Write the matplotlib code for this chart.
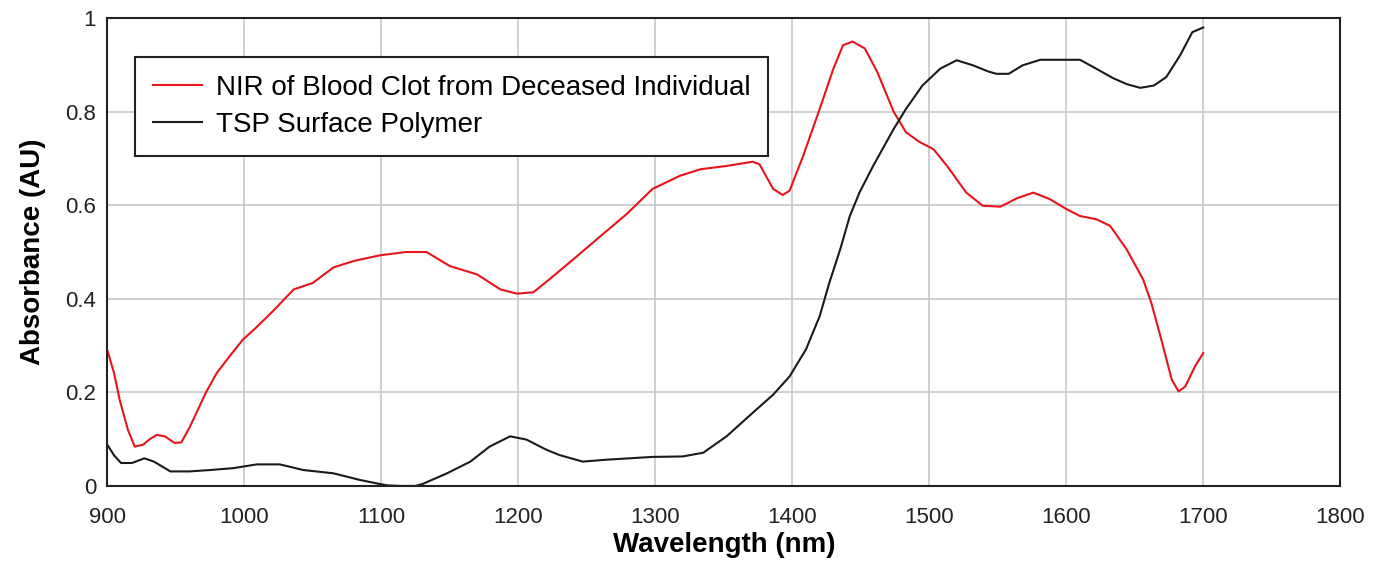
import matplotlib.pyplot as plt

plt.rcParams["font.family"] = ["Liberation Sans", "DejaVu Sans"]

# NIR spectrum of the blood clot
clot_nm = [900, 905, 909, 915, 920, 926, 931, 936, 942, 949, 954, 960, 965, 972,
           980, 990, 999, 1007, 1021, 1036, 1050, 1065, 1080, 1099, 1118, 1133,
           1150, 1170, 1187, 1199, 1211, 1222, 1240, 1260, 1279, 1298, 1318, 1333,
           1352, 1371, 1376, 1386, 1393, 1398, 1408, 1420, 1430, 1437, 1444, 1453,
           1462, 1474, 1483, 1493, 1503, 1513, 1527, 1539, 1552, 1564, 1576, 1588,
           1600, 1610, 1622, 1632, 1644, 1656, 1662, 1670, 1677, 1682, 1687, 1694,
           1700]
clot_abs = [0.29, 0.24, 0.184, 0.12, 0.084, 0.088, 0.10, 0.109, 0.106, 0.092, 0.093,
            0.125, 0.156, 0.20, 0.242, 0.28, 0.313, 0.334, 0.374, 0.42, 0.434, 0.467,
            0.481, 0.493, 0.50, 0.50, 0.47, 0.452, 0.42, 0.411, 0.414, 0.44, 0.484,
            0.534, 0.581, 0.635, 0.663, 0.677, 0.684, 0.693, 0.688, 0.635, 0.622,
            0.631, 0.706, 0.806, 0.892, 0.942, 0.950, 0.935, 0.885, 0.80, 0.756,
            0.735, 0.72, 0.684, 0.627, 0.599, 0.597, 0.615, 0.627, 0.613, 0.592,
            0.577, 0.57, 0.556, 0.506, 0.442, 0.392, 0.306, 0.227, 0.202, 0.213,
            0.256, 0.284]

# TSP surface polymer reference spectrum
tsp_nm = [900, 905, 910, 918, 927, 934, 946, 960, 975, 992, 1009, 1026, 1043, 1065,
          1084, 1099, 1105, 1114, 1125, 1130, 1148, 1165, 1179, 1194, 1206, 1220,
          1230, 1247, 1264, 1298, 1320, 1335, 1352, 1371, 1386, 1398, 1410, 1420,
          1427, 1435, 1442, 1449, 1459, 1474, 1483, 1495, 1508, 1520, 1532, 1543,
          1549, 1558, 1568, 1581, 1600, 1610, 1620, 1634, 1644, 1654, 1664, 1673,
          1683, 1692, 1700]
tsp_abs = [0.088, 0.065, 0.049, 0.049, 0.059, 0.052, 0.031, 0.031, 0.034, 0.038,
           0.046, 0.046, 0.034, 0.027, 0.013, 0.004, 0.001, 0.0, 0.0, 0.004, 0.027,
           0.052, 0.084, 0.106, 0.099, 0.078, 0.066, 0.052, 0.056, 0.062, 0.063,
           0.071, 0.106, 0.156, 0.195, 0.234, 0.292, 0.363, 0.434, 0.506, 0.577,
           0.627, 0.684, 0.763, 0.806, 0.856, 0.892, 0.910, 0.899, 0.886, 0.881,
           0.881, 0.899, 0.911, 0.911, 0.911, 0.895, 0.872, 0.859, 0.851, 0.856,
           0.874, 0.920, 0.970, 0.980]

x_ticks = list(range(900, 1801, 100))
y_ticks = [0, 0.2, 0.4, 0.6, 0.8, 1]
y_labels = ["0", "0.2", "0.4", "0.6", "0.8", "1"]

fig = plt.figure(figsize=(13.87, 5.67), dpi=100)
ax = fig.add_axes([0.0774, 0.143, 0.8889, 0.825])

ax.plot(clot_nm, clot_abs, color="#e8141c", lw=1.5,
        label="NIR of Blood Clot from Deceased Individual")
ax.plot(tsp_nm, tsp_abs, color="#1a1a1a", lw=1.5, label="TSP Surface Polymer",
        clip_on=False)

ax.set_xlim(900, 1800)
ax.set_ylim(0, 1)
ax.set_xticks(x_ticks)
ax.set_yticks(y_ticks)
ax.set_yticklabels(y_labels)
ax.tick_params(length=0, labelsize=16, colors="#222222")
ax.tick_params(axis="x", pad=15)
ax.tick_params(axis="y", pad=8)
ax.grid(True, color="#c8c8c8", lw=1.2)
ax.set_axisbelow(True)
for sp in ax.spines.values():
    sp.set_linewidth(1.5)
    sp.set_color("#222222")

ax.set_xlabel("Wavelength (nm)", fontsize=20, fontweight="bold", labelpad=3)
ax.set_ylabel("Absorbance (AU)", fontsize=20, fontweight="bold", labelpad=14)

leg = ax.legend(loc="upper left", bbox_to_anchor=(0.0225, 0.917), borderaxespad=0,
                fontsize=20, fancybox=False, framealpha=1, edgecolor="#222222",
                handlelength=1.75, handletextpad=0.5, labelspacing=0.4,
                borderpad=0.65)
leg.get_frame().set_linewidth(1.5)

fig.savefig("out.png", dpi=100)
